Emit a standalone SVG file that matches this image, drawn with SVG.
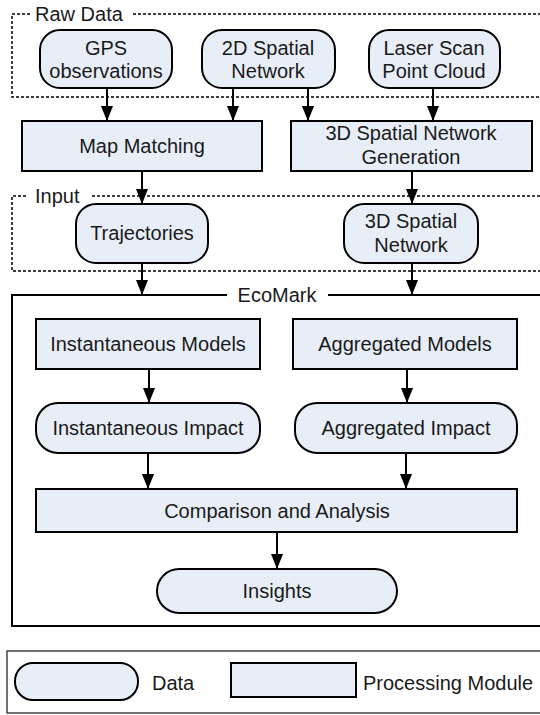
<svg xmlns="http://www.w3.org/2000/svg" width="540" height="715" viewBox="0 0 540 715">
<defs>
<marker id="ah" markerUnits="userSpaceOnUse" markerWidth="16" markerHeight="12" refX="15" refY="6" orient="auto" viewBox="0 0 16 12">
<path d="M0,0 L15,6 L0,12 z" fill="#000"/>
</marker>
<style>
text{font-family:"Liberation Sans",Arial,sans-serif;font-size:20px;fill:#1a1a1a;text-anchor:middle}
.lbl{text-anchor:start}
.data{fill:#E8EEF8;stroke:#000;stroke-width:2}
.proc{fill:#E8EEF8;stroke:#000;stroke-width:2}
.dash{fill:none;stroke:#000;stroke-width:1.5;stroke-dasharray:3,2}
.frame{fill:none;stroke:#000;stroke-width:2}
.leg{fill:#fff;stroke:#444;stroke-width:1.5}
.conn line{stroke:#000;stroke-width:2}
</style>
</defs>
<rect width="540" height="715" fill="#fff"/>
<g id="group-rawdata">
<path class="dash" d="M30,14 H12 V97 H541 M133,14 H541"/>
<text class="lbl" x="35" y="21">Raw Data</text>
</g>
<g id="group-input">
<path class="dash" d="M26,196 H12 V271 H541 M92,196 H541"/>
<text class="lbl" x="35" y="203">Input</text>
</g>
<g id="group-ecomark">
<path class="frame" d="M227,295 H12 V626 H541 M328,295 H541"/>
<text x="277" y="302">EcoMark</text>
</g>
<g id="gps"><rect class="data" x="40" y="30" width="132" height="58" rx="20"/><text x="106" y="55">GPS</text><text x="106" y="78">observations</text></g>
<g id="net2d"><rect class="data" x="202" y="30" width="133" height="58" rx="20"/><text x="268" y="55">2D Spatial</text><text x="268" y="78">Network</text></g>
<g id="laser"><rect class="data" x="369" y="30" width="131" height="58" rx="20"/><text x="434" y="55">Laser Scan</text><text x="434" y="78">Point Cloud</text></g>
<g id="mapmatch"><rect class="proc" x="22" y="121" width="240" height="50"/><text x="142" y="153">Map Matching</text></g>
<g id="gen3d"><rect class="proc" x="291" y="121" width="241" height="50"/><text x="411" y="140">3D Spatial Network</text><text x="411" y="164">Generation</text></g>
<g id="traj"><rect class="data" x="76" y="204" width="132" height="59" rx="20"/><text x="142" y="240">Trajectories</text></g>
<g id="net3d"><rect class="data" x="344" y="204" width="134" height="59" rx="20"/><text x="411" y="228">3D Spatial</text><text x="411" y="252">Network</text></g>
<g id="instmodels"><rect class="proc" x="36" y="319" width="224" height="50"/><text x="148" y="351">Instantaneous Models</text></g>
<g id="aggmodels"><rect class="proc" x="293" y="319" width="224" height="50"/><text x="405" y="351">Aggregated Models</text></g>
<g id="instimpact"><rect class="data" x="36" y="403" width="224" height="50" rx="22"/><text x="148" y="435">Instantaneous Impact</text></g>
<g id="aggimpact"><rect class="data" x="295" y="403" width="222" height="50" rx="22"/><text x="406" y="435">Aggregated Impact</text></g>
<g id="compare"><rect class="proc" x="36" y="489" width="481" height="43"/><text x="277" y="518">Comparison and Analysis</text></g>
<g id="insights"><rect class="data" x="157" y="569" width="240" height="44" rx="22"/><text x="277" y="598">Insights</text></g>
<g id="legend">
<rect class="leg" x="7" y="651" width="540" height="62"/>
<rect class="data" x="15" y="663" width="123" height="37" rx="18"/>
<text class="lbl" x="152" y="690">Data</text>
<rect class="proc" x="231" y="663" width="125" height="34"/>
<text class="lbl" x="363" y="690">Processing Module</text>
</g>
<g id="connectors" class="conn">
<line x1="107" y1="88" x2="107" y2="121" marker-end="url(#ah)"/>
<line x1="233" y1="88" x2="233" y2="121" marker-end="url(#ah)"/>
<line x1="308" y1="88" x2="308" y2="121" marker-end="url(#ah)"/>
<line x1="433" y1="88" x2="433" y2="121" marker-end="url(#ah)"/>
<line x1="142" y1="171" x2="142" y2="204" marker-end="url(#ah)"/>
<line x1="412" y1="171" x2="412" y2="204" marker-end="url(#ah)"/>
<line x1="142" y1="263" x2="142" y2="295" marker-end="url(#ah)"/>
<line x1="412" y1="263" x2="412" y2="295" marker-end="url(#ah)"/>
<line x1="149" y1="369" x2="149" y2="403" marker-end="url(#ah)"/>
<line x1="407" y1="369" x2="407" y2="403" marker-end="url(#ah)"/>
<line x1="148" y1="453" x2="148" y2="489" marker-end="url(#ah)"/>
<line x1="406" y1="453" x2="406" y2="489" marker-end="url(#ah)"/>
<line x1="277" y1="532" x2="277" y2="569" marker-end="url(#ah)"/>
</g>
</svg>
